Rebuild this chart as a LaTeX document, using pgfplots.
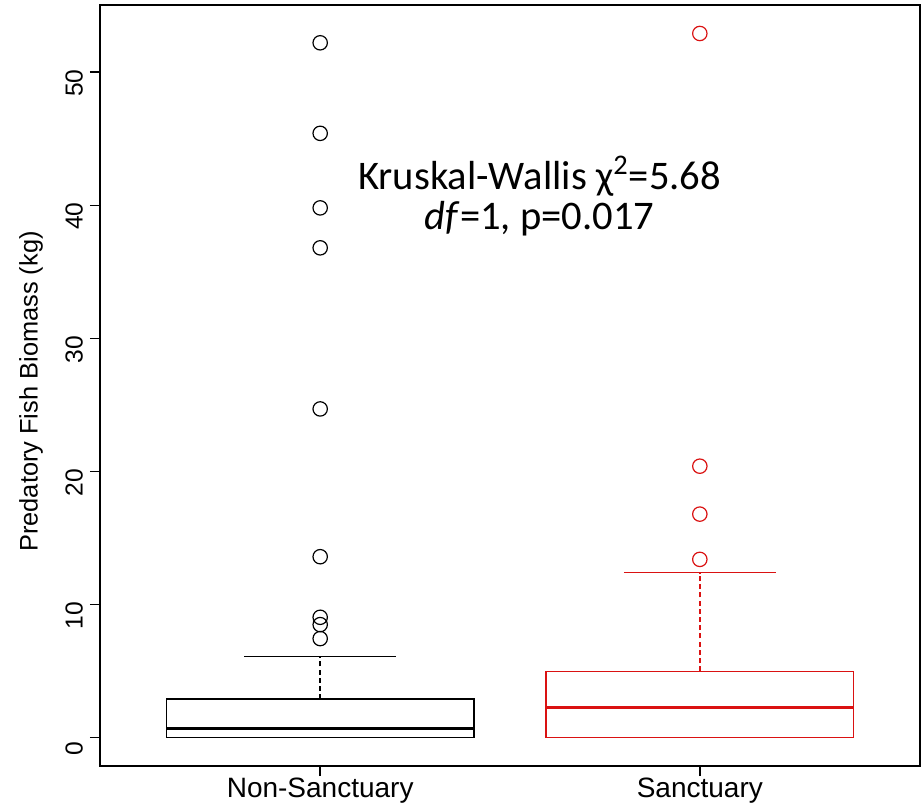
\documentclass[border=0pt]{standalone}
\usepackage{pgfplots}
\pgfplotsset{compat=1.18}
\usepgfplotslibrary{statistics}
\usepackage{fontspec}
\setmainfont{Liberation Sans}
\newfontfamily\calib{Carlito}
\definecolor{sred}{RGB}{218,18,18}
\begin{document}
\begin{tikzpicture}
\begin{axis}[
  scale only axis, width=410pt, height=380.5pt,
  xmin=0.42, xmax=2.58, ymin=-2.12, ymax=55.04,
  xtick={1,2}, xticklabels={Non-Sanctuary,Sanctuary},
  ytick={0,10,20,30,40,50},
  xtick pos=left, ytick pos=left,
  tick align=outside, major tick length=5pt,
  tick style={black, line width=0.7pt},
  axis line style={line width=0.7pt},
  /pgf/number format/assume math mode=true,
  xticklabel style={font=\fontsize{14}{16}\selectfont, yshift=2.5pt},
  yticklabel style={font=\fontsize{12.3}{14}\selectfont, rotate=90, anchor=south, xshift=-5.5pt},
  ylabel={Predatory Fish Biomass (kg)},
  every axis y label/.style={at={(rel axis cs:0,0.5)}, xshift=-34.5pt, yshift=-3pt, rotate=90, anchor=center, font=\fontsize{12.7}{14}\selectfont},
  boxplot/draw direction=y,
  boxplot/draw/upper whisker/.code={
    \draw[/pgfplots/boxplot/every whisker/.try, dash pattern=on 2.5pt off 1.6pt]
      (boxplot cs:\pgfplotsboxplotvalue{upper quartile}) -- (boxplot cs:\pgfplotsboxplotvalue{upper whisker});
    \draw[/pgfplots/boxplot/every whisker/.try]
      (boxplot whisker cs:\pgfplotsboxplotvalue{upper whisker},0) -- (boxplot whisker cs:\pgfplotsboxplotvalue{upper whisker},1);
  },
]
\addplot[black, line width=0.7pt, mark=o, mark size=3.6pt, mark options={solid, line width=0.6pt},
  boxplot/every box/.style={draw=black, line width=0.7pt},
  boxplot/every median/.style={line width=1.6pt},
  boxplot prepared={draw position=1, lower whisker=0, lower quartile=0, median=0.7,
    upper quartile=2.9, upper whisker=6.1, box extend=0.81, whisker extend=0.4}]
  coordinates {(0,7.45) (0,8.5) (0,9.05) (0,13.6) (0,24.7) (0,36.8) (0,39.8) (0,45.4) (0,52.2)};
\addplot[sred, line width=0.7pt, mark=o, mark size=3.6pt, mark options={solid, line width=0.6pt},
  boxplot/every box/.style={draw=sred, line width=0.7pt},
  boxplot/every median/.style={line width=1.6pt},
  boxplot prepared={draw position=2, lower whisker=0, lower quartile=0, median=2.25,
    upper quartile=5.0, upper whisker=12.4, box extend=0.81, whisker extend=0.4}]
  coordinates {(0,13.4) (0,16.8) (0,20.4) (0,52.9)};
\node[font=\calib\fontsize{20.3}{20}\selectfont, align=center] at (axis cs:1.578,40.7)
  {Kruskal-Wallis χ\textsuperscript{2}=5.68\\\textit{df}=1, p=0.017};
\coordinate (sw) at (rel axis cs:0,0);
\coordinate (ne) at (rel axis cs:1,1);
\end{axis}
\pgfresetboundingbox
\path ([shift={(-50pt,-19pt)}]sw) rectangle ([shift={(2pt,2.5pt)}]ne);
\end{tikzpicture}
\end{document}
